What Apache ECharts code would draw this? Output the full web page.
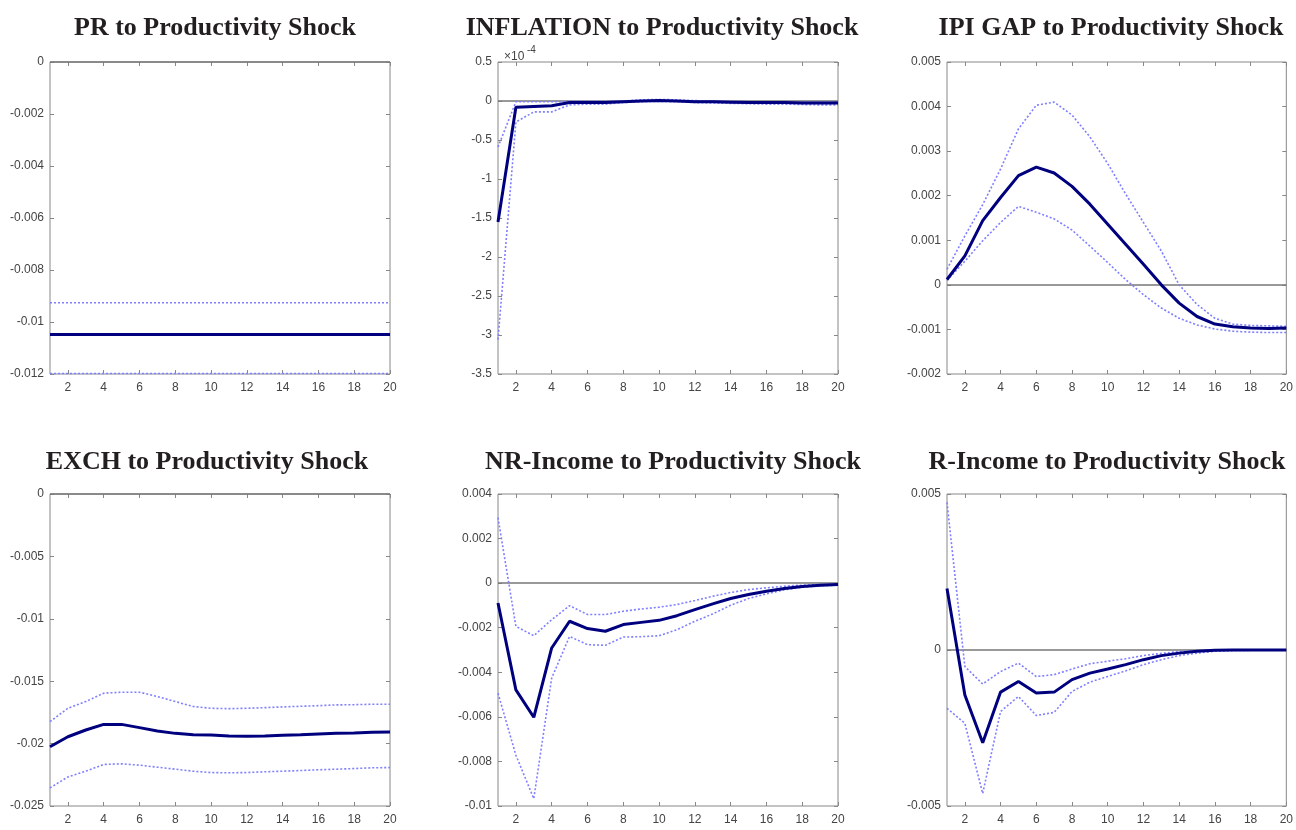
<!DOCTYPE html>
<html>
<head>
<meta charset="utf-8">
<script src="https://cdn.jsdelivr.net/npm/echarts@6/dist/echarts.min.js"></script>
<style>
  html, body { margin: 0; padding: 0; background: #fff; }
  #chart { width: 1296px; height: 830px; }
</style>
</head>
<body>
<div id="chart"></div>
<script>
// horizon (periods after the shock)
const periods = [1, 2, 3, 4, 5, 6, 7, 8, 9, 10, 11, 12, 13, 14, 15, 16, 17, 18, 19, 20];
const xTicks = [2, 4, 6, 8, 10, 12, 14, 16, 18, 20];

// PR
const prMean  = [-0.01048, -0.01048, -0.01048, -0.01048, -0.01048, -0.01048, -0.01048, -0.01048, -0.01048, -0.01048,
                 -0.01048, -0.01048, -0.01048, -0.01048, -0.01048, -0.01048, -0.01048, -0.01048, -0.01048, -0.01048];
const prUpper = [-0.00926, -0.00926, -0.00926, -0.00926, -0.00926, -0.00926, -0.00926, -0.00926, -0.00926, -0.00926,
                 -0.00926, -0.00926, -0.00926, -0.00926, -0.00926, -0.00926, -0.00926, -0.00926, -0.00926, -0.00926];
const prLower = [-0.01198, -0.01198, -0.01198, -0.01198, -0.01198, -0.01198, -0.01198, -0.01198, -0.01198, -0.01198,
                 -0.01198, -0.01198, -0.01198, -0.01198, -0.01198, -0.01198, -0.01198, -0.01198, -0.01198, -0.01198];

// INFLATION (raw values, axis shows them x10^-4)
const infMean  = [-1.55e-4, -0.08e-4, -0.07e-4, -0.06e-4, -0.02e-4, -0.02e-4, -0.02e-4, -0.01e-4, 0.0, 0.005e-4,
                  0.0, -0.01e-4, -0.01e-4, -0.015e-4, -0.02e-4, -0.02e-4, -0.02e-4, -0.025e-4, -0.025e-4, -0.025e-4];
const infUpper = [-0.59e-4, -0.01e-4, -0.01e-4, -0.01e-4, -0.005e-4, -0.005e-4, -0.005e-4, 0.0, 0.015e-4, 0.02e-4,
                  0.015e-4, 0.005e-4, 0.0, -0.005e-4, -0.01e-4, -0.01e-4, -0.01e-4, -0.015e-4, -0.015e-4, -0.015e-4];
const infLower = [-3.06e-4, -0.27e-4, -0.14e-4, -0.14e-4, -0.05e-4, -0.04e-4, -0.04e-4, -0.02e-4, -0.01e-4, -0.005e-4,
                  -0.01e-4, -0.02e-4, -0.025e-4, -0.03e-4, -0.035e-4, -0.04e-4, -0.04e-4, -0.045e-4, -0.05e-4, -0.05e-4];

// IPI GAP
const ipiMean  = [0.00012, 0.00065, 0.00144, 0.00196, 0.00245, 0.00264, 0.00251, 0.00221, 0.00181, 0.00136,
                  0.00091, 0.00046, 0.0, -0.00041, -0.00071, -0.00088, -0.00094, -0.00097, -0.00098, -0.00097];
const ipiUpper = [0.00035, 0.0011, 0.0018, 0.0026, 0.0035, 0.00403, 0.0041, 0.00381, 0.00332, 0.00272,
                  0.00204, 0.0014, 0.00076, 0.0, -0.00044, -0.00075, -0.00088, -0.00091, -0.00092, -0.00093];
const ipiLower = [0.0001, 0.00053, 0.00099, 0.0014, 0.00176, 0.00163, 0.00148, 0.00123, 0.00087, 0.0005,
                  0.00012, -0.00022, -0.00052, -0.00075, -0.0009, -0.00099, -0.00104, -0.00106, -0.00107, -0.00107];

// EXCH
const exMean  = [-0.02025, -0.01945, -0.01891, -0.01846, -0.01846, -0.01872, -0.01899, -0.01918, -0.01929, -0.01931,
                 -0.0194, -0.01942, -0.0194, -0.01934, -0.01929, -0.01923, -0.01918, -0.01915, -0.0191, -0.01907];
const exUpper = [-0.01824, -0.01717, -0.01663, -0.01596, -0.01588, -0.01588, -0.01623, -0.01663, -0.01703, -0.01717,
                 -0.0172, -0.01717, -0.01712, -0.01706, -0.01701, -0.01696, -0.0169, -0.01688, -0.01685, -0.01685];
const exLower = [-0.02355, -0.02267, -0.02221, -0.02167, -0.02162, -0.02173, -0.02189, -0.02205, -0.02221, -0.02232,
                 -0.02234, -0.02232, -0.02226, -0.02221, -0.02216, -0.0221, -0.02205, -0.022, -0.02194, -0.02192];

// NR-Income
const nrMean  = [-0.00089, -0.00479, -0.00602, -0.00291, -0.00171, -0.00204, -0.00216, -0.00186, -0.00176, -0.00167,
                 -0.00146, -0.00119, -0.00093, -0.00069, -0.00051, -0.00036, -0.00024, -0.00015, -0.00009, -0.00006];
const nrUpper = [0.00294, -0.00194, -0.00236, -0.00164, -0.00101, -0.00141, -0.00141, -0.00126, -0.00116, -0.00108,
                 -0.00096, -0.00078, -0.00059, -0.00042, -0.00029, -0.00021, -0.00014, -0.00009, -0.00006, -0.00005];
const nrLower = [-0.00494, -0.00772, -0.00967, -0.00426, -0.00239, -0.00276, -0.00279, -0.00242, -0.0024, -0.00236,
                 -0.00209, -0.00171, -0.00138, -0.00099, -0.00069, -0.00048, -0.0003, -0.00018, -0.00012, -0.00009];

// R-Income
const rMean  = [0.00197, -0.00144, -0.00297, -0.00135, -0.00101, -0.00138, -0.00135, -0.00095, -0.00074, -0.00061,
                -0.00047, -0.00031, -0.00018, -0.0001, -0.00004, -0.00001, 0.0, 0.0, 0.0, 0.0];
const rUpper = [0.00473, -0.00053, -0.00109, -0.00069, -0.00042, -0.00085, -0.00079, -0.00061, -0.00044, -0.00036,
                -0.00028, -0.00018, -0.00011, -0.00005, -0.00002, 0.0, 0.0, 0.0, 0.0, 0.0];
const rLower = [-0.00187, -0.00235, -0.0046, -0.00197, -0.00149, -0.0021, -0.002, -0.00133, -0.00103, -0.00085,
                -0.00067, -0.00047, -0.00031, -0.00018, -0.0001, -0.00004, -0.00002, -0.00001, -0.00001, -0.00001];

const panels = [
  { title: 'PR to Productivity Shock', mean: prMean, upper: prUpper, lower: prLower, min: -0.012, max: 0, step: 0.002 },
  { title: 'INFLATION to Productivity Shock', mean: infMean, upper: infUpper, lower: infLower, min: -3.5e-4, max: 0.5e-4, step: 0.5e-4, scale: 1e4 },
  { title: 'IPI GAP to Productivity Shock', mean: ipiMean, upper: ipiUpper, lower: ipiLower, min: -0.002, max: 0.005, step: 0.001 },
  { title: 'EXCH to Productivity Shock', mean: exMean, upper: exUpper, lower: exLower, min: -0.025, max: 0, step: 0.005 },
  { title: 'NR-Income to Productivity Shock', mean: nrMean, upper: nrUpper, lower: nrLower, min: -0.01, max: 0.004, step: 0.002 },
  { title: 'R-Income to Productivity Shock', mean: rMean, upper: rUpper, lower: rLower, min: -0.005, max: 0.005, step: 0.005 }
];

// layout
const colLeft = [50, 498, 947];
const rowTop = [62, 494];
const plotW = 340, plotH = 312;
const titleX = [[210, 657, 1106], [202, 668, 1102]];
const titleTop = [10, 444];

const tickStyle = { show: true, inside: true, length: 4, lineStyle: { color: '#888', width: 1 } };
const labelStyle = { color: '#444', fontSize: 12, fontFamily: 'Liberation Sans, Arial, sans-serif' };

const grid = [], xAxis = [], yAxis = [], series = [], title = [];
const pairs = vals => periods.map((p, i) => [p, vals[i]]);

panels.forEach((p, k) => {
  const r = Math.floor(k / 3), c = k % 3;
  grid.push({ left: colLeft[c], top: rowTop[r], width: plotW, height: plotH,
              show: true, borderColor: '#888', borderWidth: 1, backgroundColor: '#fff' });
  title.push({ text: p.title, left: titleX[r][c], top: titleTop[r], textAlign: 'center',
               textStyle: { fontFamily: 'Liberation Serif, Times New Roman, serif', fontWeight: 'bold', fontSize: 26, color: '#231f20' } });

  const xi = xAxis.length;
  xAxis.push({ type: 'value', gridIndex: k, position: 'bottom', min: 1, max: 20,
               axisLine: { show: false, onZero: false }, splitLine: { show: false },
               axisTick: Object.assign({ customValues: xTicks }, tickStyle),
               axisLabel: Object.assign({ customValues: xTicks, margin: 8 }, labelStyle) });
  xAxis.push({ type: 'value', gridIndex: k, position: 'top', min: 1, max: 20,
               axisLine: { show: false, onZero: false }, splitLine: { show: false },
               axisTick: Object.assign({ customValues: xTicks }, tickStyle),
               axisLabel: { show: false } });

  const yi = yAxis.length;
  const fmt = p.scale ? (v => String(parseFloat((v * p.scale).toFixed(2)))) : (v => String(parseFloat(v.toFixed(4))));
  yAxis.push({ type: 'value', gridIndex: k, position: 'left', min: p.min, max: p.max, interval: p.step,
               axisLine: { show: false, onZero: false }, splitLine: { show: false },
               axisTick: tickStyle,
               axisLabel: Object.assign({ margin: 6, formatter: fmt }, labelStyle) });
  yAxis.push({ type: 'value', gridIndex: k, position: 'right', min: p.min, max: p.max, interval: p.step,
               axisLine: { show: false, onZero: false }, splitLine: { show: false },
               axisTick: tickStyle, axisLabel: { show: false } });

  const band = { type: 'line', xAxisIndex: xi, yAxisIndex: yi, showSymbol: false, silent: true,
                 lineStyle: { color: '#7f7fff', width: 1.6, type: [2, 2] }, z: 3 };
  series.push(Object.assign({ data: pairs(p.lower) }, band));
  series.push(Object.assign({ data: pairs(p.upper) }, band));
  series.push({ type: 'line', xAxisIndex: xi, yAxisIndex: yi, showSymbol: false, silent: true,
                data: pairs(p.mean), z: 4,
                lineStyle: { color: '#00007f', width: 3 },
                markLine: { silent: true, symbol: 'none', label: { show: false }, z: 2,
                            lineStyle: { color: '#777', width: 1.5, type: 'solid' },
                            data: [{ yAxis: 0 }] } });
});

// x10^-4 multiplier on the INFLATION panel
title.push({ text: '×10', left: 499, top: 46, textStyle: { fontSize: 12, fontWeight: 'normal', color: '#444', fontFamily: 'Liberation Sans, Arial, sans-serif' } });
title.push({ text: '-4', left: 522, top: 40, textStyle: { fontSize: 10, fontWeight: 'normal', color: '#444', fontFamily: 'Liberation Sans, Arial, sans-serif' } });

const chart = echarts.init(document.getElementById('chart'));
chart.setOption({ animation: false, backgroundColor: '#fff', title, grid, xAxis, yAxis, series });
</script>
</body>
</html>
